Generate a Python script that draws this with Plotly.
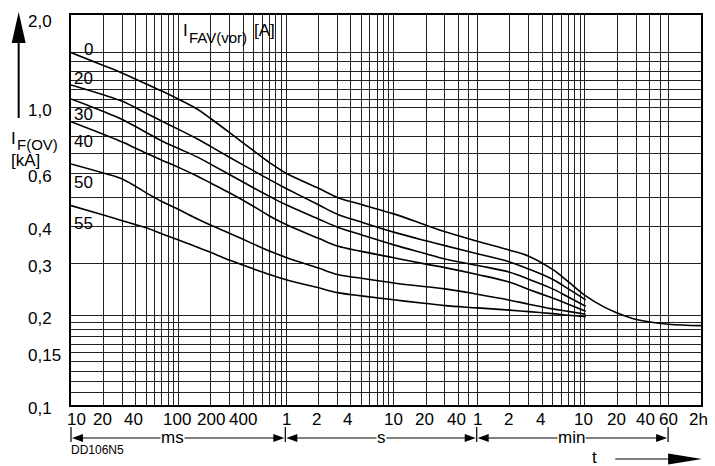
import math
import plotly.graph_objects as go

# ---- figure geometry (pixels) ----
W, H = 715, 466
L, R, T, B = 71, 12, 15, 61
PW, PH = W - L - R, H - T - B


def px(x):
    return (x - L) / PW


def py(y):
    return (H - B - y) / PH


FONT = "Liberation Sans, Arial, sans-serif"

# ---- data: overload current I_F(OV) [kA] versus time t [s] ----
t_long = [0.01, 0.02, 0.03, 0.05, 0.07, 0.1, 0.15, 0.2, 0.3, 0.5, 0.7, 1, 2, 3, 5,
          10, 20, 30, 60, 120, 180, 300, 420, 600, 900, 1200, 1800, 3600, 7200]
t_short = [0.01, 0.02, 0.03, 0.05, 0.07, 0.1, 0.15, 0.2, 0.3, 0.5, 0.7, 1, 2, 3, 5,
           10, 20, 30, 60, 120, 180, 300, 420, 610]

i_0 = [1.536, 1.39, 1.31, 1.205, 1.14, 1.07, 0.99, 0.92, 0.825, 0.717, 0.655, 0.603,
       0.537, 0.50, 0.473, 0.44, 0.403, 0.383, 0.356, 0.332, 0.317, 0.286, 0.260,
       0.234, 0.214, 0.204, 0.194, 0.187, 0.185]
i_20 = [1.195, 1.107, 1.053, 0.960, 0.903, 0.847, 0.786, 0.741, 0.681, 0.614, 0.574,
        0.536, 0.472, 0.439, 0.413, 0.382, 0.357, 0.344, 0.323, 0.303, 0.287, 0.265,
        0.246, 0.226]
i_30 = [1.072, 0.973, 0.915, 0.827, 0.774, 0.730, 0.683, 0.646, 0.596, 0.538, 0.504,
        0.472, 0.423, 0.397, 0.374, 0.346, 0.323, 0.310, 0.295, 0.280, 0.265, 0.246,
        0.231, 0.215]
i_40 = [0.899, 0.815, 0.768, 0.704, 0.667, 0.631, 0.589, 0.558, 0.517, 0.466, 0.433,
        0.405, 0.364, 0.343, 0.329, 0.313, 0.298, 0.290, 0.275, 0.259, 0.245, 0.229,
        0.2185, 0.207]
i_50 = [0.648, 0.604, 0.577, 0.518, 0.484, 0.455, 0.423, 0.403, 0.378, 0.348, 0.330,
        0.314, 0.289, 0.275, 0.267, 0.2575, 0.250, 0.246, 0.236, 0.2254, 0.2185,
        0.2107, 0.2066, 0.202]
i_55 = [0.469, 0.436, 0.417, 0.395, 0.377, 0.359, 0.340, 0.326, 0.307, 0.287, 0.275,
        0.264, 0.248, 0.239, 0.233, 0.226, 0.2197, 0.216, 0.2123, 0.2087, 0.2062,
        0.203, 0.2005, 0.1983]

curve_names = ["0", "20", "30", "40", "50", "55"]
curve_t = [t_long, t_short, t_short, t_short, t_short, t_short]
curve_i = [i_0, i_20, i_30, i_40, i_50, i_55]

# ---- grid lines and tick labels ----
x_grid = ([k * 0.01 for k in range(1, 10)] + [k * 0.1 for k in range(1, 10)]
          + [float(k) for k in range(1, 10)] + [10, 20, 30, 40, 50]
          + [60 * k for k in range(1, 10)] + [600, 1200, 1800, 2400, 3000, 3600, 7200])
x_tick_vals = [0.01, 0.02, 0.04, 0.1, 0.2, 0.4, 1, 2, 4, 10, 20, 40,
               60, 120, 240, 600, 1200, 2400, 3600, 7200]
x_tick_text = ["10", "20", "40", "100", "200", "400", "1", "2", "4", "10", "20", "40",
               "1", "2", "4", "10", "20", "40", "60", "2h"]
x_tick_shift = [5, -1, -2, -2, 0, 0, 0, -2, -3, 0, -2, -2,
                0, -1, -2, -1, -1, -4, 0, -3]

y_grid = ([0.11, 0.12, 0.13, 0.14, 0.15, 0.16, 0.17, 0.18, 0.19, 0.2, 0.3, 0.4, 0.5,
           0.6, 0.7, 0.8, 0.9, 1.0] + [1.07, 1.15, 1.24, 1.33, 1.43, 1.54])
y_label_vals = [2.0, 1.0, 0.6, 0.4, 0.3, 0.2, 0.15, 0.1]
y_label_text = ["2,0", "1,0", "0,6", "0,4", "0,3", "0,2", "0,15", "0,1"]

fig = go.Figure()
for name, tt, ii in zip(curve_names, curve_t, curve_i):
    fig.add_trace(go.Scatter(x=tt, y=ii, mode="lines", name=name,
                             line=dict(color="black", width=1.6, shape="spline",
                                       smoothing=1.0),
                             hoverinfo="skip"))

fig.update_layout(
    width=W, height=H,
    margin=dict(l=L, r=R, t=T, b=B),
    paper_bgcolor="white", plot_bgcolor="white",
    showlegend=False,
    font=dict(family=FONT, size=17, color="black"),
)
fig.update_xaxes(
    type="log", range=[-2, math.log10(7200)],
    tickmode="array", tickvals=x_grid, showticklabels=False, ticks="",
    showgrid=True, gridcolor="#222222", gridwidth=1,
    showline=True, mirror=True, linecolor="black", linewidth=1.6, zeroline=False,
)
fig.update_yaxes(
    type="log", range=[-1, 0.313],
    tickmode="array", tickvals=y_grid, showticklabels=False, ticks="",
    showgrid=True, gridcolor="#222222", gridwidth=1,
    showline=True, mirror=True, linecolor="black", linewidth=1.6, zeroline=False,
)

shapes = []
annotations = []


def text_at(x, y, s, size=17, anchor="left", **kw):
    annotations.append(dict(xref="paper", yref="paper", x=px(x), y=py(y),
                            xanchor=anchor, yanchor="middle", text=s,
                            showarrow=False, borderpad=0, font=dict(size=size), **kw))


# time tick labels
for v, s, dx in zip(x_tick_vals, x_tick_text, x_tick_shift):
    annotations.append(dict(xref="x", yref="paper", x=math.log10(v), y=py(419),
                            xanchor="center", yanchor="middle", xshift=dx,
                            text=s, showarrow=False, borderpad=0,
                            font=dict(size=17)))

# current tick labels, left aligned
for v, s in zip(y_label_vals, y_label_text):
    annotations.append(dict(xref="paper", yref="y", x=px(27), y=math.log10(v),
                            xanchor="left", yanchor="middle", yshift=-3,
                            text=s, showarrow=False, borderpad=0,
                            font=dict(size=17)))

# curve labels with white boxes breaking the grid
curve_label_pos = {"0": 49, "20": 78, "30": 114, "40": 141, "50": 182, "55": 223}
for name, yc in curve_label_pos.items():
    shapes.append(dict(type="rect", xref="paper", yref="paper", layer="between",
                       x0=px(72), x1=px(96), y0=py(yc + 8), y1=py(yc - 8),
                       fillcolor="white", line=dict(width=0)))
    text_at(94, yc, name, anchor="right")

# parameter legend box: I_FAV(vor) [A]
shapes.append(dict(type="rect", xref="paper", yref="paper", layer="between",
                   x0=px(180), x1=px(285), y0=py(47), y1=py(15.5),
                   fillcolor="white", line=dict(width=0)))
text_at(182, 31, "I")
text_at(188, 37, "FAV(vor)", size=15)
text_at(254, 31, "[A]")

# current axis title with arrow: I_F(OV) [kA]
shapes.append(dict(type="line", xref="paper", yref="paper",
                   x0=px(18.5), x1=px(18.5), y0=py(118), y1=py(40),
                   line=dict(color="black", width=2)))
shapes.append(dict(type="path", xref="paper", yref="paper",
                   path=f"M {px(18.5)},{py(12)} L {px(11.5)},{py(43)} L {px(25.5)},{py(43)} Z",
                   fillcolor="black", line=dict(width=0)))
text_at(10, 138, "I")
text_at(16, 144, "F(OV)", size=15)
text_at(10, 160, "[kA]")

# unit ranges under the time axis
ARROW_Y = 438
ranges = [(71, 286, "ms", 173), (286, 478, "s", 382), (478, 670, "min", 573)]
for xa in (71, 286, 478, 670):
    shapes.append(dict(type="line", xref="paper", yref="paper",
                       x0=px(xa), x1=px(xa), y0=py(427), y1=py(442),
                       line=dict(color="black", width=1.2)))
for xa, xb, label, xc in ranges:
    shapes.append(dict(type="line", xref="paper", yref="paper",
                       x0=px(xa + 8), x1=px(xb - 8), y0=py(ARROW_Y), y1=py(ARROW_Y),
                       line=dict(color="black", width=1)))
    for tip, base in ((xa + 1, xa + 12), (xb - 1, xb - 12)):
        shapes.append(dict(type="path", xref="paper", yref="paper",
                           path=(f"M {px(tip)},{py(ARROW_Y)} L {px(base)},{py(ARROW_Y - 4)} "
                                 f"L {px(base)},{py(ARROW_Y + 4)} Z"),
                           fillcolor="black", line=dict(width=0)))
    text_at(xc, ARROW_Y - 1, label, anchor="center", bgcolor="white")

# time axis title with arrow
text_at(596, 457, "t", anchor="center")
shapes.append(dict(type="line", xref="paper", yref="paper",
                   x0=px(617), x1=px(672), y0=py(459), y1=py(459),
                   line=dict(color="black", width=1.2)))
shapes.append(dict(type="path", xref="paper", yref="paper",
                   path=f"M {px(704)},{py(459)} L {px(670)},{py(453.5)} L {px(670)},{py(464.5)} Z",
                   fillcolor="black", line=dict(width=0)))

text_at(70, 450, "DD106N5", size=12)

fig.update_layout(shapes=shapes, annotations=annotations)
fig.write_html("out.html")
